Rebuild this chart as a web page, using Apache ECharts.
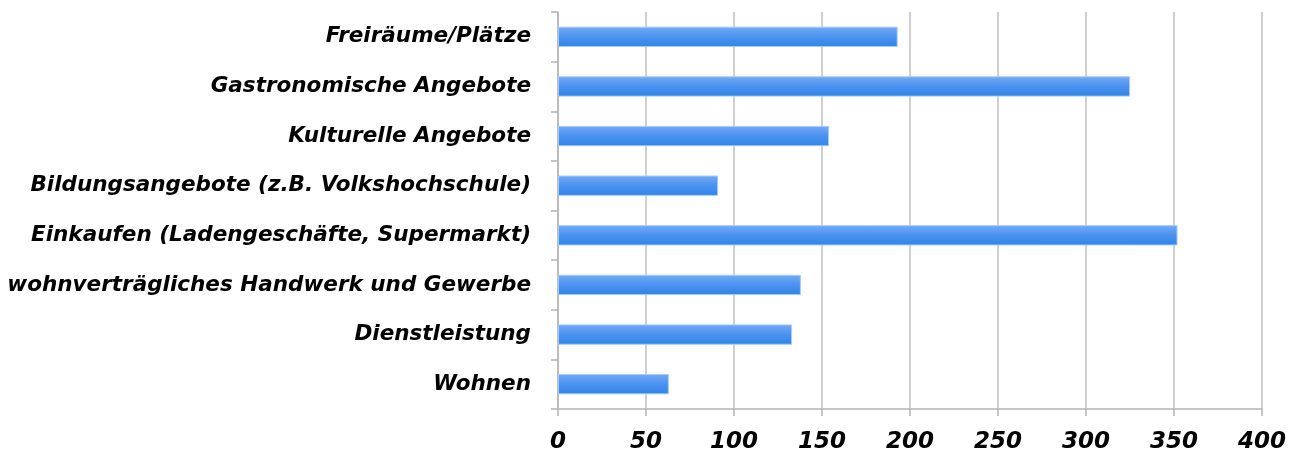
<!DOCTYPE html>
<html>
<head>
<meta charset="utf-8">
<script src="https://cdn.jsdelivr.net/npm/echarts@6/dist/echarts.min.js"></script>
<style>
  html, body { margin: 0; padding: 0; background: #fff; }
  #chart { width: 1299px; height: 454px; }
</style>
</head>
<body>
<div id="chart"></div>
<script>
// Kategorien (von unten nach oben, wie im Diagramm)
const categories = [
  'Wohnen',
  'Dienstleistung',
  'wohnverträgliches Handwerk und Gewerbe',
  'Einkaufen (Ladengeschäfte, Supermarkt)',
  'Bildungsangebote (z.B. Volkshochschule)',
  'Kulturelle Angebote',
  'Gastronomische Angebote',
  'Freiräume/Plätze',
];
const values = [63, 133, 138, 352, 91, 154, 325, 193];
const xTicks = [0, 50, 100, 150, 200, 250, 300, 350, 400];

const chart = echarts.init(document.getElementById('chart'));
const labelFont = {
  fontFamily: 'DejaVu Sans',
  fontStyle: 'italic',
  fontWeight: 'bold',
  color: '#000',
};

const option = {
  animation: false,
  grid: {
    left: 558,
    right: 37,
    top: 12,
    bottom: 45,
  },
  xAxis: {
    type: 'value',
    min: xTicks[0],
    max: xTicks[xTicks.length - 1],
    interval: 50,
    axisLine: { show: true, lineStyle: { color: '#b4b4b4', width: 1.5 } },
    axisTick: { show: true, length: 7, lineStyle: { color: '#b4b4b4', width: 1.5 } },
    splitLine: { show: true, lineStyle: { color: '#c0c0c0', width: 1.5 } },
    axisLabel: Object.assign({ fontSize: 23, margin: 22 }, labelFont),
  },
  yAxis: {
    type: 'category',
    data: categories,
    axisLine: { show: true, lineStyle: { color: '#b4b4b4', width: 1.5 } },
    axisTick: { show: true, length: 7, lineStyle: { color: '#b4b4b4', width: 1.5 } },
    axisLabel: Object.assign({ fontSize: 21.5, margin: 27, padding: [6, 0, 0, 0] }, labelFont),
  },
  series: [{
    type: 'bar',
    data: values,
    barWidth: '41%',
    itemStyle: {
      color: new echarts.graphic.LinearGradient(0, 0, 0, 1, [
        { offset: 0, color: '#74aaf6' },
        { offset: 0.5, color: '#4b92ef' },
        { offset: 1, color: '#2f84e8' },
      ]),
      borderColor: '#a9ccf7',
      borderWidth: 1,
    },
  }],
};
chart.setOption(option);
</script>
</body>
</html>
